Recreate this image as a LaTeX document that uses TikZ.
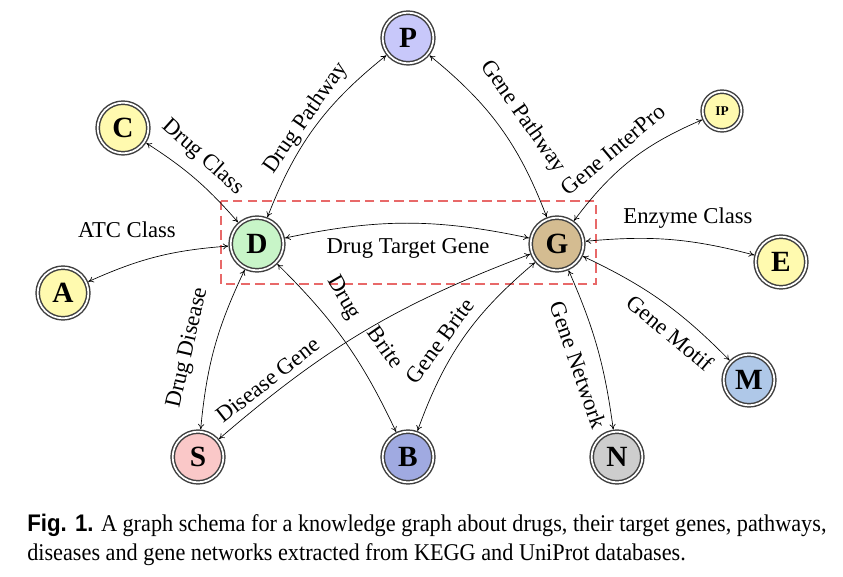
\documentclass[tikz,border=0pt]{standalone}
\usepackage{fontspec}
\setmainfont{Liberation Serif}
\newfontfamily\capsans{Liberation Sans}
\usetikzlibrary{arrows.meta}
\definecolor{dashred}{RGB}{232,105,105}
\definecolor{cP}{RGB}{200,200,250}
\definecolor{cY}{RGB}{255,250,175}
\definecolor{cD}{RGB}{200,245,200}
\definecolor{cG}{RGB}{212,188,145}
\definecolor{cM}{RGB}{175,200,232}
\definecolor{cS}{RGB}{250,200,200}
\definecolor{cB}{RGB}{160,170,225}
\definecolor{cN}{RGB}{205,205,205}
\begin{document}
\begin{tikzpicture}[x=0.75pt,y=-0.75pt,
  ent/.style={circle, draw=black!75, line width=1.1pt, double=white, double distance=1.3pt,
    minimum size=38pt, inner sep=0pt, outer sep=1.8pt, font=\fontsize{22}{24}\selectfont\bfseries},
  big/.style={minimum size=39.5pt},
  small/.style={minimum size=29pt, font=\fontsize{10}{12}\selectfont\bfseries},
  rel/.style={draw=black, line width=0.5pt, {To[length=4pt,width=4.5pt]}-{To[length=4pt,width=4.5pt]}},
  lab/.style={font=\fontsize{17}{19}\selectfont, inner sep=1pt},
  capt/.style={anchor=west, inner sep=0pt}
]
\useasboundingbox (0,0) rectangle (843,577);
% dashed box
\draw[dashred, line width=1.2pt, dash pattern=on 7pt off 4pt] (221,201) rectangle (596,284);
% nodes
\node[ent, fill=cP] (P) at (408,38) {P};
\node[ent, fill=cY] (C) at (123,128) {C};
\node[ent, small, fill=cY] (IP) at (722,111) {IP};
\node[ent, big, fill=cD] (D) at (257,244) {D};
\node[ent, big, fill=cG] (G) at (557,244) {G};
\node[ent, fill=cY] (A) at (63,293) {A};
\node[ent, fill=cY] (E) at (781,262) {E};
\node[ent, fill=cM] (M) at (749,380) {M};
\node[ent, fill=cS] (S) at (198,457) {S};
\node[ent, fill=cB] (B) at (408,457) {B};
\node[ent, fill=cN] (N) at (617,457) {N};
% edges
\draw[rel] (A) to[bend left=10] (D);
\draw[rel] (C) to[bend left=8] (D);
\draw[rel] (D) to[bend left=15] (P);
\draw[rel] (P) to[bend left=15] (G);
\draw[rel] (G) to[bend left=15] (IP);
\draw[rel] (G) to[bend left=10] (E);
\draw[rel] (G) to[bend left=10] (M);
\draw[rel] (G) to[bend left=8] (N);
\draw[rel] (B) to[bend left=15] (G);
\draw[rel] (D) to[bend left=10] (B);
\draw[rel] (S) to[bend left=10] (G);
\draw[rel] (D) to[bend right=10] (S);
\draw[rel] (D) to[bend left=12] (G);
% labels
\node[lab] (lATC) at (127,230) {ATC Class};
\node[lab, rotate=-42] (lDC) at (203,157) {Drug Class};
\node[lab, rotate=55] (lDP) at (306,118) {Drug Pathway};
\node[lab, rotate=-55] (lGP) at (523,117) {Gene Pathway};
\node[lab, rotate=40] (lGI) at (613,150) {Gene InterPro};
\node[lab] (lEC) at (688,218) {Enzyme Class};
\node[lab] (lDTG) at (408,248) {Drug Target Gene};
\node[lab, rotate=77] (lDD) at (188,348) {Drug Disease};
\node[lab, rotate=38] (lDG) at (268,380) {Disease Gene};
\node[lab, rotate=-60] (lDB1) at (343,298) {Drug};
\node[lab, rotate=-55] (lDB2) at (386,347) {Brite};
\node[lab, rotate=54] (lGB) at (440,341) {Gene Brite};
\node[lab, rotate=-71] (lGN) at (578,365) {Gene Network};
\node[lab, rotate=-40] (lGM) at (670,333) {Gene Motif};
% caption
\node[capt] (cap1) at (27,525) {\scalebox{0.927}[1]{\fontsize{18}{20}\selectfont{\capsans\bfseries Fig. 1.} A graph schema for a knowledge graph about drugs, their target genes, pathways,}};
\node[capt] (cap2) at (27,555) {\scalebox{0.927}[1]{\fontsize{18}{20}\selectfont diseases and gene networks extracted from KEGG and UniProt databases.}};
\end{tikzpicture}
\end{document}
